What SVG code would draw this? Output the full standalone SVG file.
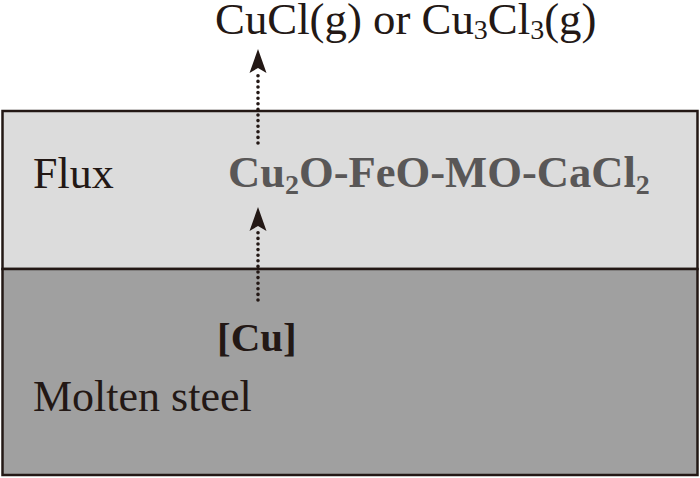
<svg xmlns="http://www.w3.org/2000/svg" width="700" height="478" viewBox="0 0 700 478">
<style>
.t{font-family:"Liberation Serif","Times New Roman",serif;fill:#231815}
.reg{font-size:44px}
.b{font-weight:bold}
.dot{stroke:#231815;stroke-width:3.6;stroke-linecap:round;stroke-dasharray:0 5.6;fill:none}
.head{fill:#231815}
</style>
<rect width="700" height="478" fill="#ffffff"/>
<g id="flux">
<rect x="2.5" y="111" width="695" height="158" fill="#dcdcdc" stroke="#231815" stroke-width="2.5"/>
<text class="t reg" x="33" y="188">Flux</text>
<text class="t b" x="228" y="187" font-size="44.6" style="fill:#595757">Cu<tspan font-size="28" dy="7">2</tspan><tspan dy="-7">O-FeO-MO-CaCl</tspan><tspan font-size="28" dy="7">2</tspan></text>
</g>
<g id="steel">
<rect x="2.5" y="269" width="695" height="206" fill="#a0a0a0" stroke="#231815" stroke-width="2.5"/>
<text class="t b" x="217" y="351" font-size="41">[Cu]</text>
<text class="t reg" x="33" y="411" font-size="44.5">Molten steel</text>
</g>
<g id="gas">
<text class="t" x="215" y="34" font-size="44.8">CuCl(g) or Cu<tspan font-size="28" dy="5">3</tspan><tspan dy="-5">Cl</tspan><tspan font-size="28" dy="5">3</tspan><tspan dy="-5">(g)</tspan></text>
</g>
<g id="connectors">
<line class="dot" x1="258" y1="300" x2="258" y2="231"/>
<path class="head" d="M258,207 L266.5,231 L258,226 L249.5,231 Z"/>
<line class="dot" x1="258" y1="143" x2="258" y2="73"/>
<path class="head" d="M258,49 L266.5,73 L258,68 L249.5,73 Z"/>
</g>
</svg>
